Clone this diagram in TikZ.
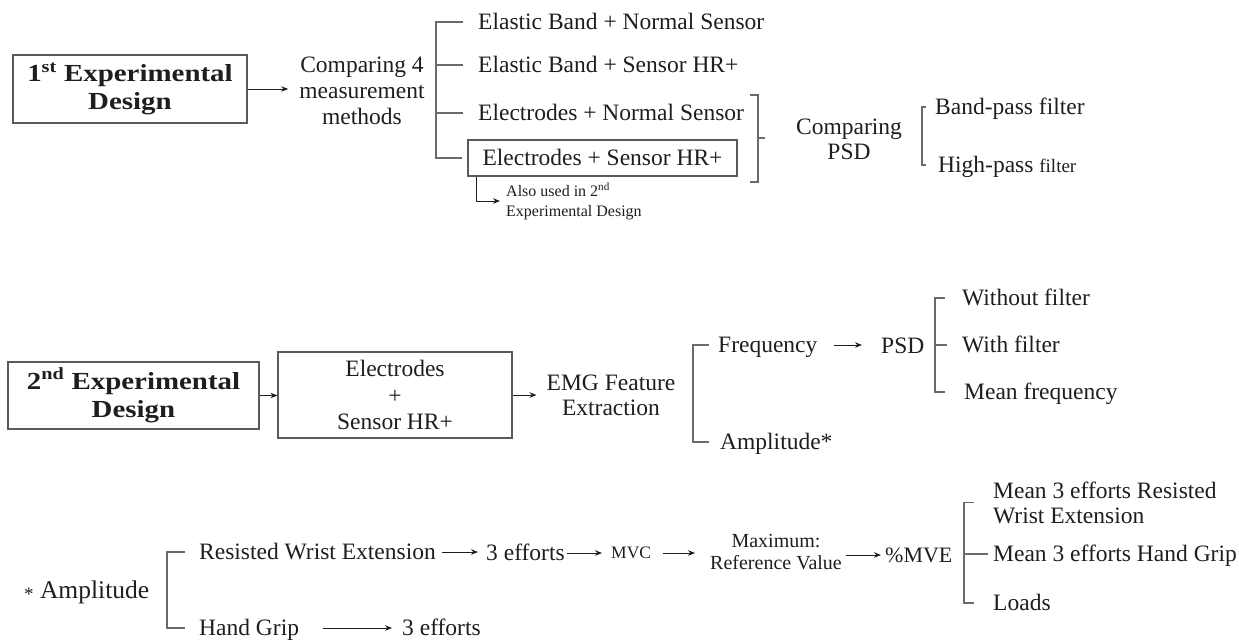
\documentclass[tikz,border=0pt]{standalone}
\usepackage{fontspec}
\setmainfont{Liberation Serif}
\newfontfamily\hdfont[FakeStretch=1.18]{Liberation Serif}
\usetikzlibrary{arrows.meta,calc}
\definecolor{ink}{HTML}{1E1E1E}
\definecolor{rule}{HTML}{6A6A6A}
\definecolor{frame}{HTML}{5A5A5A}
\begin{document}
\begin{tikzpicture}[x=1pt,y=-1pt,
  lbl/.style={inner sep=0pt, text=ink, font=\fontsize{23.5}{26}\selectfont, text height=15.5pt, text depth=0pt},
  multi/.style={inner sep=0pt, text=ink, font=\fontsize{23.5}{26}\selectfont},
  hdbox/.style={draw=frame, line width=1.2pt, inner sep=0pt, align=center, text=ink, font=\hdfont\bfseries\fontsize{24.5}{28.5}\selectfont},
  plainbox/.style={draw=frame, line width=1.1pt, inner sep=0pt, align=center, text=ink, font=\fontsize{23.5}{26.5}\selectfont},
  brk/.style={draw=rule, line width=1.1pt},
  arr/.style={draw=ink, line width=1pt, -{Stealth[length=7pt,width=5.5pt]}}]
\useasboundingbox (0,0) rectangle (1239,643);

% ---------- first experimental design ----------
\node[hdbox, minimum width=234pt, minimum height=68pt] (box1) at (130,89) {1\textsuperscript{st} Experimental\\Design};
\node[multi, align=center] (comp) at (362,91) {Comparing 4\\measurement\\methods};
\draw[arr, shorten >=11pt] (box1.east) -- (comp.west |- box1.east);

\node[lbl, anchor=west] (r1) at (478,22) {Elastic Band + Normal Sensor};
\node[lbl, anchor=west] (r2) at (478,65) {Elastic Band + Sensor HR+};
\node[lbl, anchor=west] (r3) at (478,113) {Electrodes + Normal Sensor};
\node[lbl, draw=frame, line width=1.1pt, minimum width=269pt, minimum height=36pt] (r4) at (602.5,158) {Electrodes + Sensor HR+};
\node[inner sep=0pt, text=ink, align=left, font=\fontsize{16}{20}\selectfont, anchor=west] (note) at (506,201) {Also used in 2\textsuperscript{nd}\\Experimental Design};

\coordinate (k1) at (436,0);
\draw[brk] ([xshift=-15pt]r1.west) -- (k1 |- r1.west) -- (k1 |- r4.west) -- ([xshift=-5pt]r4.west);
\draw[brk] (k1 |- r2.west) -- ([xshift=-15pt]r2.west);
\draw[brk] (k1 |- r3.west) -- ([xshift=-15pt]r3.west);
\draw[arr] ([xshift=9pt]r4.south west) |- ([xshift=-6pt]note.west);

\coordinate (k2) at (758,138);
\draw[brk] (k2) ++(-8,-43) -- ++(8,0) -- ++(0,87) -- ++(-8,0);
\draw[brk] (k2) -- ++(7,0);

\node[multi, align=center, font=\fontsize{23.5}{25}\selectfont] (cpsd) at (849,139.5) {Comparing\\PSD};
\node[lbl, anchor=west] (bp) at (935,107) {Band-pass filter};
\node[lbl, anchor=west] (hp) at (938,165) {High-pass {\fontsize{19}{19}\selectfont filter}};
\coordinate (k3) at (922,0);
\draw[brk] (k3 |- bp.west) ++(4,0) -- (k3 |- bp.west) -- (k3 |- hp.west) -- ++(4,0);

% ---------- second experimental design ----------
\node[hdbox, minimum width=251pt, minimum height=67pt] (boxA) at (133.5,395.5) {2\textsuperscript{nd} Experimental\\Design};
\node[plainbox, minimum width=234pt, minimum height=86pt] (boxB) at (395,395) {Electrodes\\+\\Sensor HR+};
\node[multi, align=center, font=\fontsize{23.5}{25}\selectfont] (emg) at (611,395.5) {EMG Feature\\Extraction};
\draw[arr] (boxA.east) -- (boxB.west |- boxA.east);
\draw[arr, shorten >=10pt] (boxB.east) -- (emg.west |- boxB.east);

\node[lbl, anchor=west] (freq) at (718,345) {Frequency};
\node[lbl, anchor=west] (ampx) at (720,442) {Amplitude*};
\coordinate (k4) at (693,0);
\draw[brk] (k4 |- freq.west) ++(16,0) -- (k4 |- freq.west) -- (k4 |- ampx.west) -- ++(16,0);

\node[lbl, anchor=west] (psd) at (881,346) {PSD};
\draw[arr, shorten <=16pt, shorten >=19pt] (freq.east) -- (psd.west |- freq.east);

\node[lbl, anchor=west] (wof) at (962,298) {Without filter};
\node[lbl, anchor=west] (wf) at (962,345) {With filter};
\node[lbl, anchor=west] (mf) at (964,392) {Mean frequency};
\coordinate (k5) at (935,0);
\draw[brk] (k5 |- wof.west) ++(10,0) -- (k5 |- wof.west) -- (k5 |- mf.west) -- ++(10,0);
\draw[brk] (k5 |- wf.west) -- ++(12,0);

% ---------- amplitude detail ----------
\node[lbl, anchor=west, font=\fontsize{25.5}{26}\selectfont, text height=16.8pt] (amp) at (24,590) {{\fontsize{19}{19}\selectfont\raisebox{-0.12em}{*}} Amplitude};
\node[lbl, anchor=west] (rwe) at (199,552) {Resisted Wrist Extension};
\node[lbl, anchor=west] (hg) at (199,628) {Hand Grip};
\coordinate (k6) at (167,0);
\draw[brk] (k6 |- rwe.west) ++(18,0) -- (k6 |- rwe.west) -- (k6 |- hg.west) -- ++(18,0);

\node[lbl, anchor=west] (e1) at (486,553) {3 efforts};
\node[lbl, anchor=west] (e2) at (402,628) {3 efforts};
\node[lbl, anchor=west, font=\fontsize{17.5}{18}\selectfont, text height=11.6pt] (mvc) at (611,553) {MVC};
\node[multi, align=center, font=\fontsize{20}{22}\selectfont] (maxref) at (776,552) {Maximum:\\Reference Value};
\node[lbl, anchor=west, font=\fontsize{22}{24}\selectfont, text height=14.5pt] (mve) at (885,555) {\%MVE};

\draw[arr, shorten <=6pt, shorten >=8pt] (rwe.east) -- (e1.west |- rwe.east);
\draw[arr, shorten <=2pt, shorten >=9pt] (e1.east) -- (mvc.west |- e1.east);
\draw[arr, shorten <=12pt, shorten >=15pt] (mvc.east) -- (maxref.west |- mvc.east);
\draw[arr, shorten <=4pt, shorten >=4pt] (maxref.east |- mve.west) -- (mve.west);
\draw[arr, shorten <=24pt, shorten >=10pt] (hg.east) -- (e2.west |- hg.east);

\node[multi, align=left, anchor=west, font=\fontsize{23.5}{25}\selectfont] (m1) at (993,502.5) {Mean 3 efforts Resisted\\Wrist Extension};
\node[lbl, anchor=west] (m2) at (993,554) {Mean 3 efforts Hand Grip};
\node[lbl, anchor=west] (loads) at (993,603) {Loads};
\coordinate (k7) at (964,0);
\draw[brk] (k7 |- m1.west) ++(10,0) -- (k7 |- m1.west) -- (k7 |- loads.west) -- ++(10,0);
\draw[brk] (k7 |- m2.west) -- ++(24,0);
\end{tikzpicture}
\end{document}
